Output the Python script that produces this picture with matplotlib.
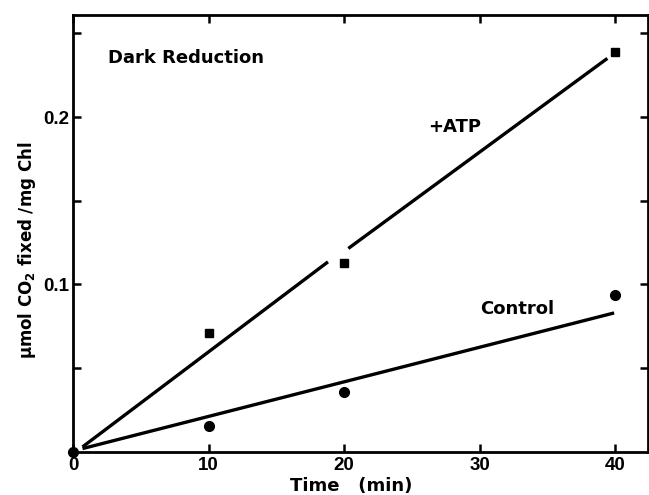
import numpy as np
import matplotlib
matplotlib.use('Agg')
import matplotlib.pyplot as plt

plt.rcParams['font.family'] = ['DejaVu Sans']
plt.rcParams['font.weight'] = 'bold'
plt.rcParams['mathtext.fontset'] = 'custom'
plt.rcParams['mathtext.rm'] = 'DejaVu Sans:bold'
plt.rcParams['mathtext.bf'] = 'DejaVu Sans:bold'

# measured points
atp_time = [10, 20, 40]
atp_co2 = [0.071, 0.113, 0.239]
ctrl_time = [0, 10, 20, 40]
ctrl_co2 = [0.0, 0.0155, 0.036, 0.094]

# fitted lines (ATP line is broken around the 20 min point)
atp_fit_a_t = [0.7, 18.8]
atp_fit_a_y = [0.003, 0.1135]
atp_fit_b_t = [20.3, 39.4]
atp_fit_b_y = [0.1215, 0.235]
ctrl_fit_t = [0.7, 39.9]
ctrl_fit_y = [0.002, 0.083]

fig = plt.figure(figsize=(6.49, 4.95), dpi=100)
ax = fig.add_axes([0.1125, 0.087, 0.886, 0.883])

lw = 2.4
ax.plot(atp_fit_a_t, atp_fit_a_y, color='black', lw=lw, solid_capstyle='butt')
ax.plot(atp_fit_b_t, atp_fit_b_y, color='black', lw=lw, solid_capstyle='butt')
ax.plot(ctrl_fit_t, ctrl_fit_y, color='black', lw=lw, solid_capstyle='butt')
ax.plot(atp_time, atp_co2, 's', color='black', ms=6, clip_on=False)
ax.plot(ctrl_time, ctrl_co2, 'o', color='black', ms=7, clip_on=False)

ax.set_xlim(0, 42.4)
ax.set_ylim(0, 0.261)

tick_font = {'family': 'Liberation Sans', 'size': 13.5, 'weight': 'bold'}
ax.set_xticks([0, 10, 20, 30, 40])
ax.set_xticklabels(['0', '10', '20', '30', '40'], fontdict=tick_font)
ax.set_yticks([0.05, 0.1, 0.15, 0.2, 0.25])
ax.set_yticklabels(['', '0.1', '', '0.2', ''], fontdict=tick_font)
ax.tick_params(direction='in', length=6, width=1.8, top=True, right=True, pad=3)
ax.tick_params(axis='x', pad=4)

for s in ax.spines.values():
    s.set_linewidth(2)

ax.set_xlabel('Time   (min)', fontsize=13, fontweight='bold')
ax.xaxis.set_label_coords(0.483, -0.057)
ax.set_ylabel('μmol CO$_2$ fixed /mg Chl', fontsize=12, fontweight='bold')
ax.yaxis.set_label_coords(-0.061, 0.462)

ax.text(2.6, 0.235, 'Dark Reduction', fontsize=13, fontweight='bold', va='center')
ax.text(26.2, 0.194, '+ATP', fontsize=13, fontweight='bold', va='center')
ax.text(30.0, 0.0854, 'Control', fontsize=13, fontweight='bold', va='center')

fig.savefig('out.png', dpi=100)
